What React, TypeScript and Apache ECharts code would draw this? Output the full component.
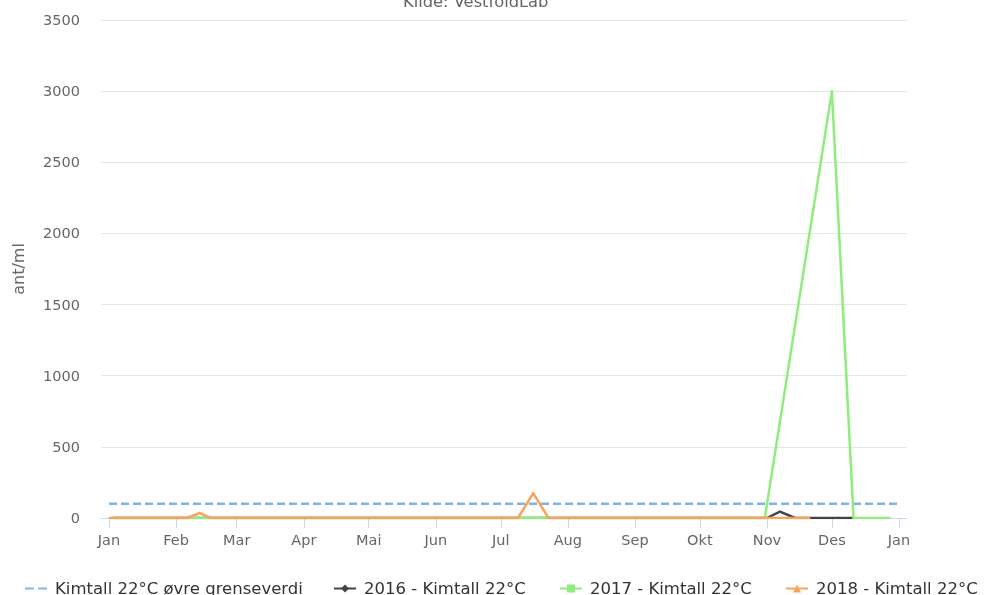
import React, { useEffect, useRef } from "react";
import * as echarts from "echarts";

const DAY = 86400000;
const d = (s: string) => {
  const [y, m, dd] = s.split("-").map(Number);
  return Date.UTC(y, m - 1, dd);
};

const monthLabels = ["Jan", "Feb", "Mar", "Apr", "Mai", "Jun", "Jul", "Aug", "Sep", "Okt", "Nov", "Des", "Jan"];
const monthTicks = [
  "2018-01-01", "2018-02-01", "2018-03-01", "2018-04-01", "2018-05-01", "2018-06-01",
  "2018-07-01", "2018-08-01", "2018-09-01", "2018-10-01", "2018-11-01", "2018-12-01", "2019-01-01",
];

const seriesNames = [
  "Kimtall 22°C øvre grenseverdi",
  "2016 - Kimtall 22°C",
  "2017 - Kimtall 22°C",
  "2018 - Kimtall 22°C",
];

const thresholdDates = ["2018-01-01", "2019-01-01"];
const thresholdValues = [100, 100];

const dates2016 = ["2018-01-03", "2018-03-05", "2018-06-04", "2018-09-03", "2018-11-01", "2018-11-07", "2018-11-14", "2018-12-11"];
const values2016 = [0, 0, 0, 0, 0, 45, 0, 0];

const dates2017 = ["2018-01-02", "2018-02-06", "2018-02-17", "2018-07-09", "2018-07-23", "2018-10-31", "2018-12-01", "2018-12-11", "2018-12-28"];
const values2017 = [0, 0, 0, 0, 0, 0, 3000, 0, 0];

const dates2018 = ["2018-01-01", "2018-02-06", "2018-02-12", "2018-02-17", "2018-07-09", "2018-07-16", "2018-07-23", "2018-11-21"];
const values2018 = [0, 0, 35, 0, 0, 175, 0, 0];

const colors = ["#7cb5ec", "#434348", "#90ed7d", "#f7a35c"];
const symbols = ["none", "diamond", "rect", "triangle"];
const legendLefts = [20, 328, 554, 780];

const pair = (ds: string[], vs: number[]) => ds.map((s, i) => [d(s), vs[i]]);

export default function App() {
  const ref = useRef<HTMLDivElement>(null);
  useEffect(() => {
    if (!ref.current) return;
    const chart = echarts.init(ref.current, undefined, { renderer: "svg" });
    const font = "DejaVu Sans";
    const dataSets = [
      pair(thresholdDates, thresholdValues),
      pair(dates2016, values2016),
      pair(dates2017, values2017),
      pair(dates2018, values2018),
    ];
    const tickVals = monthTicks.map(d);
    chart.setOption({
      animation: false,
      color: colors,
      title: {
        text: "Kilde: VestfoldLab",
        left: 403,
        top: -7,
        padding: 0,
        textStyle: { fontFamily: font, fontSize: 16.3, color: "#666", fontWeight: "normal" },
      },
      grid: { left: 101, right: 78, top: 20, bottom: 77, containLabel: false },
      legend: seriesNames.map((n, i) => ({
        left: legendLefts[i],
        top: 575,
        itemWidth: 22,
        itemHeight: 10,
        selectedMode: false,
        textStyle: { fontFamily: font, fontSize: 16.5, color: "#333", padding: [0, 0, 0, 3] },
        data: [i === 0 ? { name: n, icon: "path://M0,0H8V2H0Z M12,0H20V2H12Z" } : { name: n }],
      })),
      xAxis: {
        type: "value",
        min: d("2018-01-01") - 3.7 * DAY,
        max: d("2019-01-01") + 3.7 * DAY,
        splitLine: { show: false },
        axisLine: { show: true, lineStyle: { color: "#ccd6eb", width: 1 } },
        axisTick: {
          show: true,
          length: 10,
          lineStyle: { color: "#ccd6eb" },
          customValues: tickVals,
        },
        axisLabel: {
          customValues: tickVals,
          margin: 14,
          fontFamily: font,
          fontSize: 14.5,
          color: "#666",
          formatter: (v: number) => {
            const i = tickVals.indexOf(v);
            return i >= 0 ? monthLabels[i] : "";
          },
        },
      },
      yAxis: {
        type: "value",
        min: 0,
        max: 3500,
        interval: 500,
        name: "ant/ml",
        nameLocation: "middle",
        nameRotate: 90,
        nameGap: 75,
        nameTextStyle: { fontFamily: font, fontSize: 16, color: "#666" },
        axisLine: { show: false },
        axisTick: { show: false },
        splitLine: { lineStyle: { color: "#e6e6e6", width: 1 } },
        axisLabel: {
          fontFamily: font,
          fontSize: 14.5,
          color: "#666",
          margin: 21,
          formatter: (v: number) => String(v),
        },
      },
      series: seriesNames.map((n, i) => ({
        name: n,
        type: "line",
        data: dataSets[i],
        symbol: symbols[i],
        symbolSize: 8,
        showSymbol: false,
        lineStyle:
          i === 0
            ? { width: 2.5, type: [8, 4], color: colors[i] }
            : { width: 2.5, color: colors[i], join: "round" },
        itemStyle: { color: colors[i] },
        emphasis: { disabled: true },
      })),
    });
    return () => chart.dispose();
  }, []);
  return <div ref={ref} style={{ position: "fixed", left: 0, top: 0, width: 985, height: 595 }} />;
}
